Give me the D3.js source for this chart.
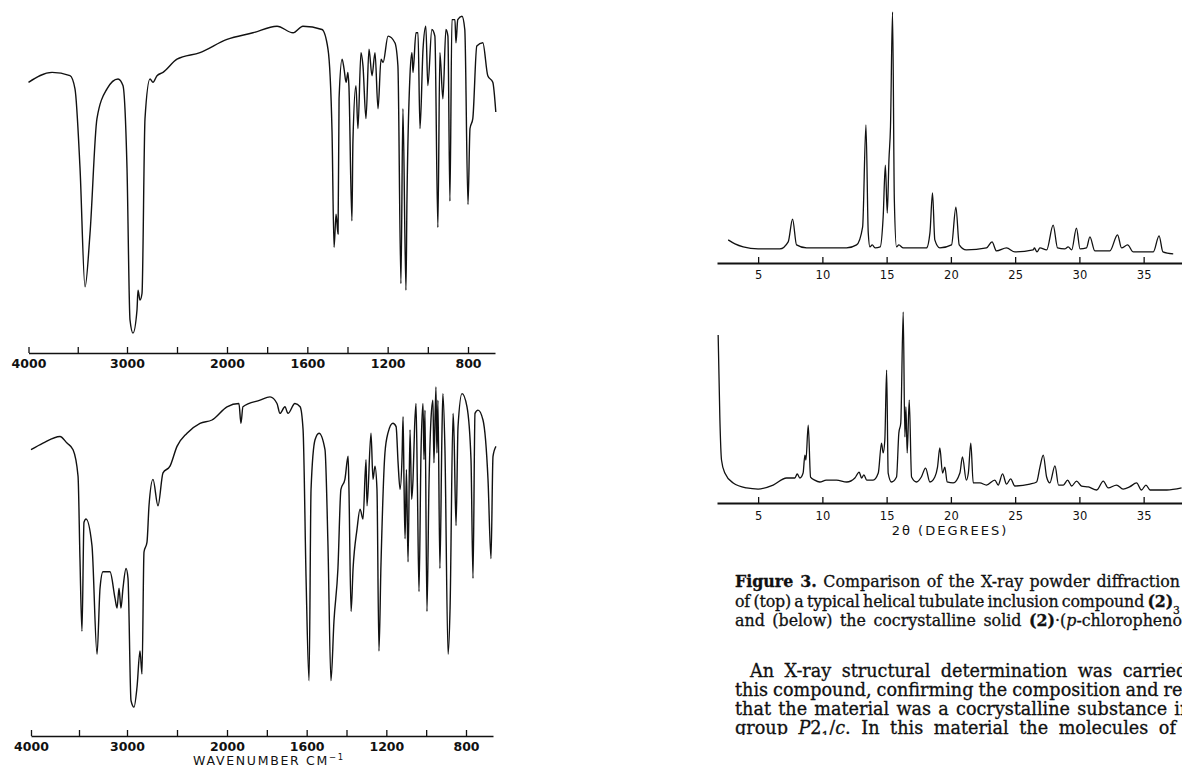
<!DOCTYPE html>
<html>
<head>
<meta charset="utf-8">
<script src="https://d3js.org/d3.v7.min.js"></script>
<style>
html, body { margin: 0; padding: 0; background: #fff; }
svg { display: block; }
</style>
</head>
<body>
<script>
// IR spectra: [wavenumber (cm-1), transmittance %]
var irTop = [
    [4000,79],[3761,82],[3579,81],[3528,77],[3477,53],[3426,17],[3376,33],[3305,68],[3203,77],[3091,80],[3041,78],
    [3000,53],[2970,7],[2940,3],[2900,10],[2890,16],[2870,13],[2850,15],[2820,68],[2770,80],[2740,79],[2700,81],
    [2640,82],[2500,86],[2270,88],[2000,92],[1871,94],[1751,96],[1671,94],[1622,96],[1527,95],[1497,89],[1477,64],
    [1467,29],[1457,39],[1447,33],[1442,74],[1427,86],[1417,83],[1407,79],[1398,82],[1393,78],[1378,37],[1373,61],
    [1358,78],[1348,65],[1333,88],[1323,84],[1308,68],[1293,89],[1278,81],[1263,88],[1248,71],[1233,86],[1223,85],
    [1198,93],[1164,91],[1149,84],[1134,18],[1124,71],[1109,16],[1104,43],[1089,81],[1079,88],[1074,82],[1059,94],
    [1049,94],[1039,65],[1024,89],[1010,96],[1000,78],[980,95],[965,93],[950,35],[940,88],[925,74],[910,95],[900,93],
    [890,43],[880,98],[865,98],[860,91],[851,98],[830,99],[816,95],[800,42],[790,65],[776,68],[756,90],[726,91],
    [701,81],[676,79],[661,70]
];
var irBottom = [
    [4000,81],[3875,83],[3698,85],[3625,83],[3562,81],[3510,73],[3490,48],[3469,26],[3448,59],[3427,60],[3365,52],
    [3312,19],[3281,39],[3250,44],[3177,44],[3125,36],[3104,33],[3083,39],[3063,33],[3042,39],[3010,45],[2990,42],
    [2960,5],[2930,3],[2900,9],[2870,20],[2850,13],[2830,50],[2800,53],[2780,64],[2740,72],[2690,64],[2640,74],
    [2570,76],[2500,82],[2400,86],[2270,89],[2150,90],[2000,94],[1940,95],[1930,89],[1920,94],[1834,96],[1784,97],
    [1749,95],[1734,92],[1709,94],[1694,92],[1659,95],[1633,94],[1618,87],[1603,42],[1588,11],[1578,69],[1558,84],
    [1538,86],[1508,81],[1493,52],[1478,11],[1463,29],[1443,45],[1428,69],[1408,72],[1392,79],[1388,70],[1377,32],
    [1367,45],[1347,57],[1332,63],[1317,60],[1302,78],[1297,64],[1277,86],[1267,72],[1257,76],[1247,69],[1237,20],
    [1227,46],[1207,80],[1192,86],[1167,89],[1151,88],[1141,77],[1131,69],[1121,79],[1116,91],[1111,70],[1106,54],
    [1099,75],[1091,47],[1081,87],[1073,66],[1066,72],[1058,88],[1051,95],[1044,70],[1036,38],[1026,80],[1016,95],
    [1011,78],[1006,93],[996,32],[986,70],[976,90],[966,96],[961,77],[951,100],[946,80],[941,96],[931,45],[921,85],
    [916,98],[906,82],[890,19],[880,33],[865,92],[860,85],[850,58],[840,88],[820,98],[795,94],[775,78],[765,42],
    [755,92],[740,93],[715,90],[690,72],[675,48],[665,79],[650,82]
];

// X-ray powder patterns: [2 theta (deg), relative intensity]
var xrdTop = [
    [2.67,9.2],[3.2,7.6],[3.84,6.4],[5.0,5.6],[6.69,5.6],[7.34,8.4],[7.68,17.5],[7.99,7.2],[8.77,6.0],[11.88,6.0],
    [12.66,7.2],[13.13,14.3],[13.39,55],[13.57,12],[13.70,6.4],[13.88,7.2],[14.1,6.0],[14.5,6.4],[14.73,18.3],
    [14.9,39],[15.05,19.9],[15.18,41],[15.3,54.2],[15.46,100],[15.6,25.1],[15.77,6.4],[15.95,7.2],[16.3,6.0],
    [18.1,6.0],[18.37,12],[18.57,27.9],[18.75,9.2],[19.14,6.0],[20.05,7.2],[20.39,22.3],[20.65,7.2],[21.2,5.2],
    [22.77,6.0],[23.2,8.4],[23.55,4.8],[24.33,6.0],[24.98,4.4],[26.4,5.2],[26.5,6.0],[26.7,4.4],[26.93,6.0],
    [27.45,5.2],[27.96,15.1],[28.3,6.0],[28.85,5.6],[29.13,6.4],[29.4,5.2],[29.77,13.9],[30.05,5.6],[30.55,6.0],
    [30.82,10.4],[31.2,4.8],[32.37,4.8],[32.97,11.2],[33.28,6.0],[33.75,7.2],[34.2,4.4],[35.75,4.4],[36.2,10.8],
    [36.5,4.4],[37.3,3.6]
];
var xrdBottom = [
    [1.89,88],[2.02,45],[2.15,22.5],[2.41,15.7],[3.06,10.5],[4.1,7.9],[5.0,7.3],[6.17,9.4],[7.21,13.1],[7.86,13.1],
    [8.04,15.2],[8.25,13.1],[8.5,15.7],[8.64,25.1],[8.72,22.5],[8.9,40.8],[9.08,13.6],[9.4,12],[9.8,11],[10.3,12],
    [11.1,12],[11.9,11],[12.53,13.1],[12.86,16.2],[13.05,13.1],[13.23,14.7],[13.45,12],[13.95,12],[14.35,15.7],
    [14.6,31.4],[14.73,26.2],[14.86,33],[15.0,69.6],[15.12,15.7],[15.38,11],[15.77,13.6],[15.95,36.6],[16.1,41.9],
    [16.29,100],[16.42,34.6],[16.5,50.3],[16.6,26.2],[16.76,53.9],[16.94,13.6],[17.33,11],[17.7,13.6],[18.03,18.3],
    [18.37,11],[18.75,13.6],[18.96,18.8],[19.14,28.8],[19.35,15.7],[19.53,18.8],[19.71,11],[20.18,10.5],[20.7,15.7],
    [20.9,24.1],[21.2,12],[21.36,15.7],[21.55,31.4],[21.74,10.5],[22.26,10.5],[22.77,9.4],[23.42,12],[23.68,9.4],
    [24.02,15.2],[24.33,9.9],[24.65,12.6],[24.98,8.9],[26.15,9.9],[26.67,11],[26.93,18.8],[27.19,25.1],[27.45,13.6],
    [27.7,10.5],[28.1,19.4],[28.38,9.4],[28.75,9.4],[29.08,12],[29.4,8.9],[29.78,11.5],[30.17,8.9],[30.7,8.4],
    [31.35,6.8],[31.86,11.5],[32.24,7.9],[32.89,9.4],[33.4,7.3],[33.9,8.4],[34.45,10.5],[34.83,6.8],[35.18,9.4],
    [35.5,6.8],[36.8,6.8],[37.95,7.9]
];

var irBreaks = [4000, 3000, 2000, 800, 650];
var irTicks = [4000, 3500, 3000, 2500, 2000, 1800, 1600, 1400, 1200, 1000, 800];
var irLabels = [4000, 3000, 2000, 1600, 1200, 800];
var xrdTicks = [5, 10, 15, 20, 25, 30, 35];

var captionLines = [
    [{t: "Figure 3.", b: 1}, {t: " Comparison of the X-ray powder diffraction patterns"}],
    [{t: "of (top) a typical helical tubulate inclusion compound "}, {t: "(2)", b: 1}, {t: "3", s: 1}],
    [{t: "and (below) the cocrystalline solid "}, {t: "(2)", b: 1}, {t: "\u00b7("}, {t: "p", i: 1}, {t: "-chlorophenol)."}]
];
var bodyLines = [
    [{t: "An X-ray structural determination was carried out on"}],
    [{t: "this compound, confirming the composition and revealing"}],
    [{t: "that the material was a cocrystalline substance in space"}],
    [{t: "group "}, {t: "P", i: 1}, {t: "2"}, {t: "1", s: 1}, {t: "/"}, {t: "c", i: 1}, {t: ". In this material the molecules of"}]
];

var ink = "#111";

var svg = d3.select("body")
        .append("svg")
        .attr("width", 1182)
        .attr("height", 772);

function drawPanel(o){
    var x = d3.scaleLinear().domain(o.xDomain).range(o.xRange);
    var y = d3.scaleLinear().domain([0, 100]).range(o.yRange);
    var axisScale = d3.scaleLinear()
            .domain(o.axisDomain)
            .range(o.axisDomain.map(function(d){ return x(d); }));

    var axis = d3.axisBottom(axisScale)
            .tickValues(o.ticks)
            .tickSizeInner(-6)
            .tickSizeOuter(0)
            .tickPadding(o.pad)
            .tickFormat(function(d){ return o.labels.indexOf(d) > -1 ? d : ""; });

    var g = svg.append("g")
            .attr("transform", "translate(0," + o.axisY + ")")
            .call(axis)
            .attr("font-family", "DejaVu Sans")
            .attr("font-size", o.fontSize)
            .attr("font-weight", o.fontWeight);
    g.select(".domain").attr("stroke", ink).attr("stroke-width", o.axisWidth);
    g.selectAll(".tick line").attr("stroke", ink).attr("stroke-width", 1.3);
    g.selectAll(".tick text").attr("fill", ink);

    var line = d3.line()
            .x(function(d){ return x(d[0]); })
            .y(function(d){ return y(d[1]); })
            .curve(d3.curveMonotoneX);

    svg.append("path")
            .datum(o.data)
            .attr("d", line)
            .attr("fill", "none")
            .attr("stroke", ink)
            .attr("stroke-width", o.lineWidth)
            .attr("stroke-linejoin", "round");
}

// infrared spectra (left)
drawPanel({ data: irTop, xDomain: irBreaks, xRange: [28.5, 127, 227, 468, 498], yRange: [343, 13],
    axisDomain: [4000, 3000, 2000, 800, 665], axisY: 353, ticks: irTicks, labels: irLabels,
    pad: 6, fontSize: 12.5, fontWeight: "bold", axisWidth: 1.6, lineWidth: 1.4 });
drawPanel({ data: irBottom, xDomain: irBreaks, xRange: [31, 127, 227, 466, 496], yRange: [717, 387],
    axisDomain: [4000, 3000, 2000, 800, 665], axisY: 736, ticks: irTicks, labels: irLabels,
    pad: 6, fontSize: 12.5, fontWeight: "bold", axisWidth: 1.6, lineWidth: 1.4 });

// powder patterns (right)
drawPanel({ data: xrdTop, xDomain: [1.8, 38], xRange: [717, 1182.2], yRange: [263, 12],
    axisDomain: [1.8, 38], axisY: 263, ticks: xrdTicks, labels: xrdTicks,
    pad: 8, fontSize: 11.5, fontWeight: "normal", axisWidth: 2, lineWidth: 1.3 });
drawPanel({ data: xrdBottom, xDomain: [1.8, 38], xRange: [717, 1182.2], yRange: [503, 312],
    axisDomain: [1.8, 38], axisY: 503, ticks: xrdTicks, labels: xrdTicks,
    pad: 9, fontSize: 11.5, fontWeight: "normal", axisWidth: 2, lineWidth: 1.3 });

var wave = svg.append("text")
        .attr("x", 269).attr("y", 765)
        .attr("text-anchor", "middle")
        .attr("font-family", "DejaVu Sans")
        .attr("font-size", 12.5)
        .attr("letter-spacing", 1.7)
        .attr("fill", ink);
wave.append("tspan").text("WAVENUMBER CM");
wave.append("tspan").text("\u22121").attr("font-size", 8.5).attr("baseline-shift", "super");

svg.append("text")
        .attr("x", 950).attr("y", 535)
        .attr("text-anchor", "middle")
        .attr("font-family", "DejaVu Sans")
        .attr("font-size", 13)
        .attr("letter-spacing", 2)
        .attr("fill", ink)
        .text("2\u03b8 (DEGREES)");

// caption and body text
svg.append("clipPath").attr("id", "pageClip")
        .append("rect").attr("x", 0).attr("y", 0).attr("width", 1182).attr("height", 735);

// sizeFit / lineFits: [line, characters measured, right end x of those characters]
// a line that must stretch gets wider word gaps, one that must shrink gets tighter letters
function drawBlock(lines, xs, ys, sizeFit, lineFits){
    var g = svg.append("g")
            .attr("font-family", "DejaVu Serif")
            .attr("font-size", 16)
            .attr("fill", ink)
            .attr("stroke", ink)
            .attr("stroke-width", 0.3)
            .attr("clip-path", "url(#pageClip)");
    var texts = g.selectAll("text")
            .data(lines)
            .enter()
            .append("text")
            .attr("x", function(d, i){ return xs[i]; })
            .attr("y", function(d, i){ return ys[i]; });
    texts.selectAll("tspan")
            .data(function(d){ return d; })
            .enter()
            .append("tspan")
            .attr("font-weight", function(d){ return d.b ? "bold" : null; })
            .attr("font-style", function(d){ return d.i ? "italic" : null; })
            .attr("font-size", function(d){ return d.s ? "0.68em" : null; })
            .attr("baseline-shift", function(d){ return d.s ? "sub" : null; })
            .text(function(d){ return d.t; });
    var nodes = texts.nodes();
    var w = nodes[sizeFit[0]].getSubStringLength(0, sizeFit[1]);
    g.attr("font-size", 16 * (sizeFit[2] - xs[sizeFit[0]]) / w);
    lineFits.forEach(function(f){
        var node = nodes[f[0]];
        var text = node.textContent.slice(0, f[1]);
        var spaces = text.split(" ").length - 1;
        var delta = f[2] - xs[f[0]] - node.getSubStringLength(0, f[1]);
        if (delta >= 0) {
            d3.select(node).attr("word-spacing", delta / spaces);
        } else {
            d3.select(node).attr("word-spacing", Math.max(delta / spaces, -1.5));
            var rest = f[2] - xs[f[0]] - node.getSubStringLength(0, f[1]);
            d3.select(node).attr("letter-spacing", rest / f[1]);
        }
    });
}

drawBlock(captionLines, [735, 735, 735], [587, 607, 626],
    [0, 52, 1170], [[0, 52, 1180], [1, 58, 1173], [2, 54, 1182]]);
drawBlock(bodyLines, [750, 735, 735, 735], [677, 696, 715, 734],
    [1, 47, 1176], [[0, 44, 1176], [1, 47, 1172], [2, 49, 1180], [3, 46, 1176]]);
</script>
</body>
</html>
